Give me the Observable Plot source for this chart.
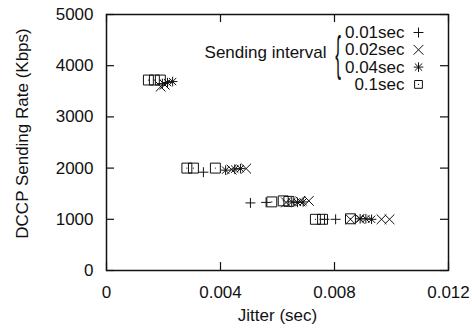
<!DOCTYPE html>
<html><head><meta charset="utf-8">
<script src="https://cdn.jsdelivr.net/npm/d3@7"></script>
<script src="https://cdn.jsdelivr.net/npm/@observablehq/plot@0.6"></script>
<style>body{margin:0;background:#fff}</style>
</head><body><div id="chart"></div>
<script>
const intervals = ["0.01sec", "0.02sec", "0.04sec", "0.1sec"];
const legendTitle = "Sending interval";
const xLabel = "Jitter (sec)";
const yLabel = "DCCP Sending Rate (Kbps)";
const xTicks = [0, 0.004, 0.008, 0.012];
const xTickLabels = ["0", "0.004", "0.008", "0.012"];
const yTicks = [0, 1000, 2000, 3000, 4000, 5000];
const yTickLabels = ["0", "1000", "2000", "3000", "4000", "5000"];

const jitter_001 = [0.00196, 0.0034, 0.00505, 0.0056, 0.00765, 0.00804];
const rate_001   = [3650, 1920, 1320, 1330, 1000, 1000];
const jitter_002 = [0.0019, 0.00204, 0.00439, 0.0049, 0.0063, 0.0068, 0.0071, 0.00856, 0.00888, 0.00965, 0.00993];
const rate_002   = [3590, 3630, 1970, 1990, 1330, 1350, 1360, 1000, 1010, 1000, 1000];
const jitter_004 = [0.00214, 0.00232, 0.00418, 0.0045, 0.0047, 0.0065, 0.0067, 0.0069, 0.0089, 0.0091, 0.0093];
const rate_004   = [3670, 3690, 1960, 1980, 1990, 1340, 1330, 1340, 1010, 1010, 1000];
const jitter_01  = [0.00147, 0.00168, 0.00189, 0.00282, 0.00305, 0.00382, 0.0058, 0.0062, 0.0064, 0.00733, 0.00758, 0.00856];
const rate_01    = [3720, 3720, 3720, 2000, 2000, 2000, 1340, 1360, 1350, 1000, 1000, 1010];

const toRows = (xs, ys) => xs.map((x, i) => ({x, y: ys[i]}));
const s001 = toRows(jitter_001, rate_001);
const s002 = toRows(jitter_002, rate_002);
const s004 = toRows(jitter_004, rate_004);
const s01  = toRows(jitter_01, rate_01);

const W = 472, H = 329, mL = 106, mR = 24, mT = 14, mB = 59;
const pw = W - mL - mR, ph = H - mT - mB;
const tk = 8;
const ink = "#111";

function symbolMarks(data, kind, extra = {}) {
  const base = {x: "x", y: "y", stroke: ink, fill: "none", strokeWidth: 1, ...extra};
  if (kind === 0) return [Plot.dot(data, {...base, symbol: "plus", r: 3.3})];
  if (kind === 1) return [Plot.dot(data, {...base, symbol: "times", r: 4.5})];
  if (kind === 2) return [Plot.dot(data, {...base, symbol: "plus", r: 3.2}), Plot.dot(data, {...base, symbol: "times", r: 3.4})];
  const r = extra.frameAnchor ? 4.4 : 5.6;
  return [Plot.dot(data, {...base, symbol: "square", r}), Plot.dot(data, {...base, symbol: "circle", r: 0.6, fill: ink, stroke: "none"})];
}

const legendMarks = [];
intervals.forEach((name, i) => {
  legendMarks.push(Plot.text([name], {text: d => d, frameAnchor: "top-right", dx: -44, dy: 18 + 17.3 * i, textAnchor: "end", lineAnchor: "middle", fill: ink}));
  legendMarks.push(...symbolMarks([0], i, {x: null, y: null, frameAnchor: "top-right", dx: -30, dy: 18 + 17.3 * i}));
});
legendMarks.push(Plot.text([legendTitle], {text: d => d, frameAnchor: "top-right", dx: -122, dy: 38, textAnchor: "end", lineAnchor: "middle", fill: ink}));
legendMarks.push(Plot.text(["{"], {text: d => d, frameAnchor: "top-right", dx: -110.5, dy: 40, fontSize: 20, textAnchor: "middle", lineAnchor: "middle", fill: ink}));

const chart = Plot.plot({
  width: W, height: H,
  marginLeft: mL, marginRight: mR, marginTop: mT, marginBottom: mB,
  style: {fontFamily: "'Liberation Sans', Arial, sans-serif", fontSize: "17px", background: "#fff", color: ink},
  x: {domain: [0, 0.012]},
  y: {domain: [0, 5000]},
  marks: [
    Plot.axisX({ticks: xTicks, tickSize: 0, tickPadding: 15, tickFormat: d => xTickLabels[xTicks.indexOf(d)], label: null, fill: ink}),
    Plot.axisY({ticks: yTicks, tickSize: 0, tickPadding: 13, tickFormat: d => yTickLabels[yTicks.indexOf(d)], label: null, fill: ink}),
    Plot.tickY(yTicks, {y: d => d, insetRight: pw - tk, stroke: ink, strokeWidth: 1.2}),
    Plot.tickY(yTicks, {y: d => d, insetLeft: pw - tk, stroke: ink, strokeWidth: 1.2}),
    Plot.tickX(xTicks, {x: d => d, insetTop: ph - tk, stroke: ink, strokeWidth: 1.2}),
    Plot.tickX(xTicks, {x: d => d, insetBottom: ph - tk, stroke: ink, strokeWidth: 1.2}),
    Plot.frame({stroke: ink, strokeWidth: 1.5}),
    ...symbolMarks(s01, 3),
    ...symbolMarks(s001, 0),
    ...symbolMarks(s002, 1),
    ...symbolMarks(s004, 2),
    Plot.text([xLabel], {text: d => d, frameAnchor: "bottom", dy: 45, lineAnchor: "middle", textAnchor: "middle", fill: ink}),
    Plot.text([yLabel], {text: d => d, frameAnchor: "left", dx: -84, dy: -9, rotate: -90, textAnchor: "middle", lineAnchor: "middle", fill: ink}),
    ...legendMarks
  ]
});
document.getElementById("chart").appendChild(chart);

// stretch the brace glyph vertically
const brace = Array.from(chart.querySelectorAll("text")).find(t => t.textContent === "{");
if (brace) {
  const wrap = document.createElementNS("http://www.w3.org/2000/svg", "g");
  brace.parentNode.insertBefore(wrap, brace);
  wrap.appendChild(brace);
  const bb = wrap.getBBox();
  const cx = bb.x + bb.width / 2, cy = bb.y + bb.height / 2;
  const sy = 52 / bb.height;
  wrap.setAttribute("transform", `translate(${cx},${cy}) scale(0.85,${sy}) translate(${-cx},${-cy})`);
}
</script>
</body></html>
